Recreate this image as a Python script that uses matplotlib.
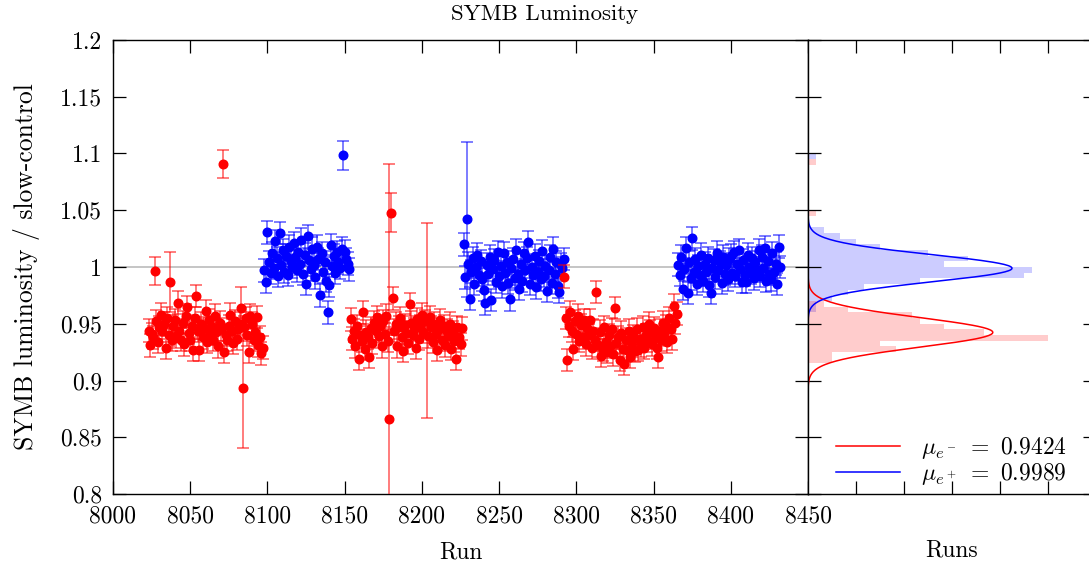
import numpy as np
import matplotlib
matplotlib.use("Agg")
import matplotlib.pyplot as plt

plt.rcParams['font.family'] = 'serif'
plt.rcParams['font.serif'] = ['cmr10', 'DejaVu Serif']
plt.rcParams['mathtext.fontset'] = 'cm'
plt.rcParams['axes.formatter.use_mathtext'] = True
plt.rcParams['axes.unicode_minus'] = False

# ---------------- data ----------------
# segments: (first run, values)  runs are consecutive within a segment
red1_start = 8023
red1_vals = [0.944, 0.931, 0.941, 0.938, 0.9965, 0.952, 0.934, 0.947, 0.958, 0.944,
             0.950, 0.929, 0.955, 0.940, 0.9865, 0.936, 0.948, 0.953, 0.939, 0.9685,
             0.944, 0.936, 0.951, 0.932, 0.957, 0.9645, 0.942, 0.936, 0.948, 0.927,
             0.955, 0.9745, 0.944, 0.927, 0.950, 0.938, 0.946, 0.961, 0.934, 0.953,
             0.941, 0.947, 0.936, 0.957, 0.943, 0.930, 0.951, 0.945, 1.0907, 0.925,
             0.940, 0.936, 0.948, 0.958, 0.944, 0.933, 0.952, 0.937, 0.945, 0.950,
             0.9636, 0.8937, 0.947, 0.955, 0.940, 0.925, 0.957, 0.950, 0.936, 0.943,
             0.956, 0.931, 0.938, 0.924, 0.929]

blue1_start = 8098
blue1_vals = [0.997, 0.987, 1.0306, 1.004, 0.995, 1.012, 0.999, 1.023, 1.008, 0.992,
              1.030, 1.002, 1.015, 0.996, 1.010, 0.993, 1.018, 1.005, 1.000, 1.021,
              1.009, 0.997, 1.013, 1.003, 1.024, 0.994, 1.011, 0.985, 1.027, 1.006,
              0.998, 1.016, 1.002, 0.991, 1.018, 1.007, 0.975, 1.012, 0.996, 1.004,
              0.988, 0.960, 0.984, 1.019, 1.001, 1.010, 0.995, 1.013, 1.004, 0.999,
              1.016, 1.0984, 1.0135, 1.007, 1.003, 0.998]

red2_start = 8154
red2_vals = [0.954, 0.937, 0.944, 0.930, 0.948, 0.919, 0.940, 0.935, 0.960, 0.928,
             0.943, 0.938, 0.921, 0.946, 0.933, 0.951, 0.944, 0.956, 0.939, 0.948,
             0.930, 0.952, 0.941, 0.957, 0.935, 0.866, 1.048, 0.9724, 0.944, 0.950,
             0.930, 0.947, 0.955, 0.938, 0.926, 0.949, 0.942, 0.933, 0.967, 0.951,
             0.940, 0.945, 0.929, 0.954, 0.937, 0.948, 0.958, 0.943, 0.952, 0.953,
             0.939, 0.956, 0.947, 0.934, 0.950, 0.941, 0.927, 0.945, 0.953, 0.936,
             0.948, 0.931, 0.944, 0.939, 0.950, 0.928, 0.942, 0.935, 0.919, 0.947,
             0.938, 0.932, 0.946]

blue2_start = 8227
blue2_vals = [1.020, 0.991, 1.042, 1.003, 0.972, 0.996, 1.008, 0.985, 1.000, 1.011,
              0.993, 1.005, 0.989, 0.980, 0.968, 1.002, 0.994, 1.009, 0.971, 0.998,
              1.006, 0.987, 1.013, 0.992, 1.001, 0.983, 1.012, 0.995, 1.004, 0.986,
              0.9715, 0.999, 1.007, 0.990, 1.015, 0.994, 0.981, 1.003, 0.988, 1.012,
              0.997, 1.008, 1.0218, 0.985, 1.000, 0.993, 1.010, 0.982, 0.996, 1.005,
              0.989, 1.014, 0.992, 1.001, 0.979, 0.997, 1.009, 0.986, 1.016, 0.994,
              1.004, 0.983, 0.978, 1.002, 0.999, 1.007]

red3_start = 8292
red3_vals = [0.9915, 0.955, 0.918, 0.948, 0.960, 0.944, 0.928, 0.952, 0.941, 0.957,
             0.935, 0.949, 0.938, 0.953, 0.932, 0.946, 0.940, 0.953, 0.929, 0.944,
             0.936, 0.978, 0.931, 0.943, 0.922, 0.927, 0.947, 0.934, 0.925, 0.940,
             0.930, 0.945, 0.923, 0.964, 0.933, 0.938, 0.918, 0.942, 0.928, 0.9145,
             0.936, 0.927, 0.944, 0.921, 0.933, 0.939, 0.926, 0.945, 0.927, 0.937,
             0.931, 0.947, 0.929, 0.940, 0.935, 0.950, 0.943, 0.932, 0.946, 0.938,
             0.929, 0.921, 0.944, 0.936, 0.951, 0.940, 0.948, 0.934, 0.955, 0.945,
             0.937, 0.966, 0.951, 0.959]

blue3_start = 8366
blue3_vals = [1.002, 0.993, 1.009, 0.981, 0.998, 1.0165, 0.977, 1.004, 0.990, 1.0254,
              0.996, 1.007, 0.985, 1.001, 0.993, 1.011, 0.988, 1.003, 0.996, 1.008,
              0.984, 0.977, 0.999, 1.006, 0.991, 1.0126, 0.997, 1.004, 0.986, 1.009,
              0.994, 1.002, 0.989, 1.007, 1.010, 0.995, 1.013, 0.992, 1.003, 1.015,
              0.998, 0.987, 1.006, 0.993, 0.987, 1.011, 1.000, 0.995, 1.008, 0.990,
              1.004, 0.997, 1.015, 0.992, 1.009, 0.999, 1.017, 0.988, 1.005, 0.994,
              0.989, 1.012, 0.996, 1.003, 0.985, 1.018, 1.000]

default_err = 0.010
err_override = {8027: 0.012, 8037: 0.0265, 8071: 0.012, 8083: 0.019, 8084: 0.053,
                8149: 0.0125, 8179: 0.225, 8180: 0.017, 8203: 0.086, 8229: 0.068}

# histogram (bin lower edges, bin width 0.005)
bin_width = 0.005
blue_bin_lo = [0.960, 0.965, 0.970, 0.975, 0.980, 0.985, 0.990, 0.995, 1.000, 1.005,
               1.010, 1.015, 1.020, 1.025, 1.030, 1.095]
blue_counts = [1, 1, 3, 5, 7, 14, 27, 28, 17, 20, 15, 9, 6, 4, 2, 1]
red_bin_lo = [0.915, 0.920, 0.925, 0.930, 0.935, 0.940, 0.945, 0.950, 0.955, 0.960,
              0.965, 1.045, 1.090]
red_counts = [3, 3, 11, 9, 30, 22, 17, 14, 13, 5, 2, 1, 1]

# gaussian fits
mu_red, sigma_red, amp_red = 0.9424, 0.013, 23.1
mu_blue, sigma_blue, amp_blue = 0.9989, 0.012, 25.5

x_ticks = [8000, 8050, 8100, 8150, 8200, 8250, 8300, 8350, 8400, 8450]
y_ticks = [0.8, 0.85, 0.9, 0.95, 1.0, 1.05, 1.1, 1.15, 1.2]
y_ticklabels = ['0.8', '0.85', '0.9', '0.95', '1', '1.05', '1.1', '1.15', '1.2']

# ---------------- figure ----------------
W, H = 1089, 565
fig = plt.figure(figsize=(W / 100, H / 100), dpi=100)
ax = fig.add_axes([113 / W, (H - 494) / H, 695 / W, 454 / H])
axh = fig.add_axes([808 / W, (H - 494) / H, 288 / W, 454 / H])

FS = 17
ax.axhline(1.0, color='#c0c0c0', lw=1.3, zorder=0)


def seg(start, vals):
    runs = [start + i for i in range(len(vals))]
    errs = [err_override.get(r, default_err) for r in runs]
    return runs, vals, errs


ms = 6.2
cap = 4.3
for start, vals in [(blue1_start, blue1_vals), (blue2_start, blue2_vals), (blue3_start, blue3_vals)]:
    r, v, e = seg(start, vals)
    ax.errorbar(r, v, yerr=e, fmt='o', color='#0000ff', ms=ms, ecolor=(0, 0, 1, 0.6),
                elinewidth=1.2, capsize=cap, capthick=1.2, zorder=2)
for start, vals in [(red1_start, red1_vals), (red2_start, red2_vals), (red3_start, red3_vals)]:
    r, v, e = seg(start, vals)
    ax.errorbar(r, v, yerr=e, fmt='o', color='#ff0000', ms=ms, ecolor=(1, 0, 0, 0.6),
                elinewidth=1.2, capsize=cap, capthick=1.2, zorder=3)

ax.set_xlim(8000, 8450)
ax.set_ylim(0.8, 1.2)
ax.set_xticks(x_ticks)
ax.set_xticklabels([str(t) for t in x_ticks])
ax.set_yticks(y_ticks)
ax.set_yticklabels(y_ticklabels)
ax.tick_params(direction='in', length=9.4, width=0.9, top=True, right=True,
               labelsize=FS, pad=8)
ax.set_xlabel('Run', fontsize=FS, labelpad=10)
ax.set_ylabel('SYMB luminosity / slow-control', fontsize=18.5, labelpad=14)
for s in ax.spines.values():
    s.set_linewidth(1.0)

# side histogram
axh.barh(blue_bin_lo, blue_counts, height=bin_width, align='edge',
         color=(0, 0, 1, 0.2), lw=0, zorder=1)
axh.barh(red_bin_lo, red_counts, height=bin_width, align='edge',
         color=(1, 0, 0, 0.2), lw=0, zorder=1)
yy = np.linspace(0.8, 1.2, 800)
axh.plot(amp_red * np.exp(-0.5 * ((yy - mu_red) / sigma_red) ** 2), yy, color='#ff0000',
         lw=1.1, label=r'$\mu_{e^-}\ =\ 0.9424$', zorder=2)
axh.plot(amp_blue * np.exp(-0.5 * ((yy - mu_blue) / sigma_blue) ** 2), yy, color='#0000ff',
         lw=1.1, label=r'$\mu_{e^+}\ =\ 0.9989$', zorder=2)
axh.set_xlim(0, 36)
axh.set_ylim(0.8, 1.2)
axh.set_xticks([6, 12, 18, 24, 30])
axh.set_yticks(y_ticks)
axh.tick_params(direction='in', length=9.4, width=0.9, top=True, right=True,
                labelbottom=False, labelleft=False)
axh.set_xlabel('Runs', fontsize=FS, labelpad=33)
for s in axh.spines.values():
    s.set_linewidth(1.0)
    s.set_zorder(5)
axh.legend(loc='lower right', bbox_to_anchor=(0.96, -0.024), frameon=False, fontsize=FS,
           handlelength=2.7, handletextpad=0.9, labelspacing=0.0, borderpad=0.25)

fig.text(0.5, 1 - 14 / H, 'SYMB Luminosity', ha='center', va='center', fontsize=16.5)

fig.savefig('out.png', dpi=100)
